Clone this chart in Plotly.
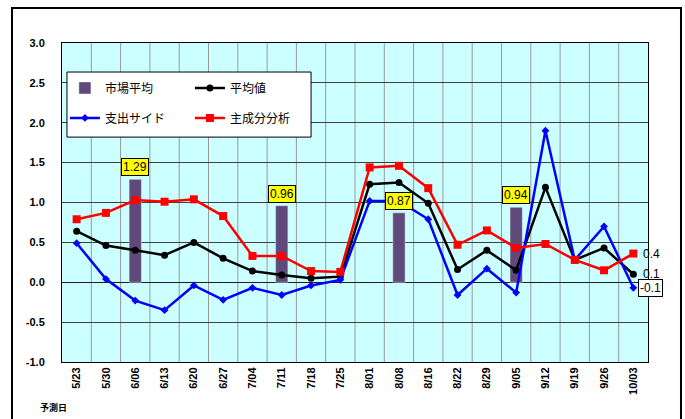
import plotly.graph_objects as go

dates = ["5/23", "5/30", "6/06", "6/13", "6/20", "6/27", "7/04", "7/11", "7/18", "7/25",
         "8/01", "8/08", "8/16", "8/22", "8/29", "9/05", "9/12", "9/19", "9/26", "10/03"]
market_avg = [None, None, 1.29, None, None, None, None, 0.96, None, None,
              None, 0.87, None, None, None, 0.94, None, None, None, None]
mean_val = [0.64, 0.46, 0.40, 0.34, 0.50, 0.30, 0.14, 0.09, 0.05, 0.07,
            1.23, 1.25, 0.99, 0.16, 0.40, 0.15, 1.19, 0.28, 0.43, 0.10]
expend_side = [0.49, 0.04, -0.23, -0.35, -0.04, -0.22, -0.07, -0.16, -0.04, 0.03,
               1.02, 1.02, 0.79, -0.16, 0.17, -0.13, 1.90, 0.28, 0.70, -0.07]
pca = [0.79, 0.87, 1.03, 1.01, 1.04, 0.83, 0.33, 0.33, 0.14, 0.13,
       1.44, 1.46, 1.18, 0.47, 0.65, 0.43, 0.48, 0.28, 0.15, 0.36]
y_ticks = [3.0, 2.5, 2.0, 1.5, 1.0, 0.5, 0.0, -0.5, -1.0]

x = list(range(len(dates)))
boundaries = [i - 0.5 for i in range(1, len(dates))]
tick_font = dict(family="Liberation Sans, Arial, sans-serif", size=11, color="black")
cjk = "Noto Sans CJK JP, sans-serif"

fig = go.Figure()
fig.add_trace(go.Bar(x=x, y=market_avg, name="市場平均", marker_color="#5F497A",
                     width=0.42, legend="legend"))
fig.add_trace(go.Scatter(x=x, y=mean_val, name="平均値", mode="lines+markers",
                         line=dict(color="black", width=2.5),
                         marker=dict(symbol="circle", size=7, color="black"), legend="legend"))
fig.add_trace(go.Scatter(x=x, y=expend_side, name="支出サイド", mode="lines+markers",
                         line=dict(color="#0000FF", width=2.5),
                         marker=dict(symbol="diamond", size=6, color="#0000FF"), legend="legend2"))
fig.add_trace(go.Scatter(x=x, y=pca, name="主成分分析", mode="lines+markers",
                         line=dict(color="#FF0000", width=2.5),
                         marker=dict(symbol="square", size=8, color="#FF0000"), legend="legend2"))

annotations = []
for i, v in enumerate(market_avg):
    if v is not None:
        annotations.append(dict(x=i, y=v, xref="x", yref="y", text=f"{v:.2f}",
                                showarrow=False, yanchor="bottom", yshift=3,
                                font=dict(family="Liberation Sans, Arial", size=12, color="black"),
                                bgcolor="#FFFF00", bordercolor="black", borderwidth=1, borderpad=1))
last = len(dates) - 1
annotations.append(dict(x=last, y=pca[last], xref="x", yref="y", text=f"{pca[last]:.1f}",
                        showarrow=False, xanchor="left", xshift=8,
                        font=dict(family="Liberation Sans, Arial", size=12, color="black")))
annotations.append(dict(x=last, y=mean_val[last], xref="x", yref="y", text=f"{mean_val[last]:.1f}",
                        showarrow=False, xanchor="left", xshift=8,
                        font=dict(family="Liberation Sans, Arial", size=12, color="black")))
annotations.append(dict(x=last, y=expend_side[last], xref="x", yref="y", text=f"{expend_side[last]:.1f}",
                        showarrow=False, xanchor="left", xshift=5,
                        font=dict(family="Liberation Sans, Arial", size=12, color="black"),
                        bgcolor="white", bordercolor="black", borderwidth=1, borderpad=1))
annotations.append(dict(x=-0.015, y=-0.144, xref="paper", yref="paper", text="<b>予測日</b>",
                        showarrow=False, xanchor="center", yanchor="middle",
                        font=dict(family=cjk, size=9, color="black")))

shapes = [
    dict(type="rect", xref="paper", yref="paper", x0=-0.0853, x1=1.0563, y0=-0.2, y1=1.1097,
         line=dict(color="black", width=2), fillcolor="rgba(0,0,0,0)", layer="below"),
]
for b in boundaries:
    shapes.append(dict(type="line", xref="x", yref="paper", x0=b, x1=b, y0=0, y1=1,
                       line=dict(color="#999999", width=1), layer="below"))
shapes.append(dict(type="rect", xref="paper", yref="paper", x0=0.0085, x1=0.425, y0=0.705, y1=0.909,
                   line=dict(color="black", width=1), fillcolor="white", layer="above"))

fig.update_layout(
    width=685, height=419,
    margin=dict(l=62, r=37, t=43, b=57),
    paper_bgcolor="white",
    plot_bgcolor="#CCFFFF",
    barmode="overlay",
    annotations=annotations,
    shapes=shapes,
    legend=dict(orientation="h", x=0.005, y=0.859, xanchor="left", yanchor="middle",
                entrywidth=80, entrywidthmode="pixels", bgcolor="rgba(0,0,0,0)",
                font=dict(family=cjk, size=12, color="black"), traceorder="normal"),
    legend2=dict(orientation="h", x=0.005, y=0.765, xanchor="left", yanchor="middle",
                 entrywidth=80, entrywidthmode="pixels", bgcolor="rgba(0,0,0,0)",
                 font=dict(family=cjk, size=12, color="black"), traceorder="normal"),
    xaxis=dict(range=[-0.5, len(dates) - 0.5], tickmode="array", tickvals=x,
               ticktext=[f"<b>{d}</b>" for d in dates],
               tickangle=-90, tickfont=tick_font, showgrid=False, zeroline=False,
               showline=True, linecolor="black", linewidth=1, mirror=True, ticks=""),
    yaxis=dict(range=[-1, 3], tickmode="array", tickvals=y_ticks,
               ticktext=[f"<b>{t:.1f}</b>" for t in y_ticks], tickfont=tick_font,
               showgrid=True, gridcolor="#404040", gridwidth=1, zeroline=True,
               zerolinecolor="#202020", zerolinewidth=1,
               showline=True, linecolor="black", linewidth=1, mirror=True, ticks="",
               ticklabelstandoff=14),
    showlegend=True,
)

fig.write_html("out.html", config={"displayModeBar": False},
               post_script="document.body.style.margin='0px';")
